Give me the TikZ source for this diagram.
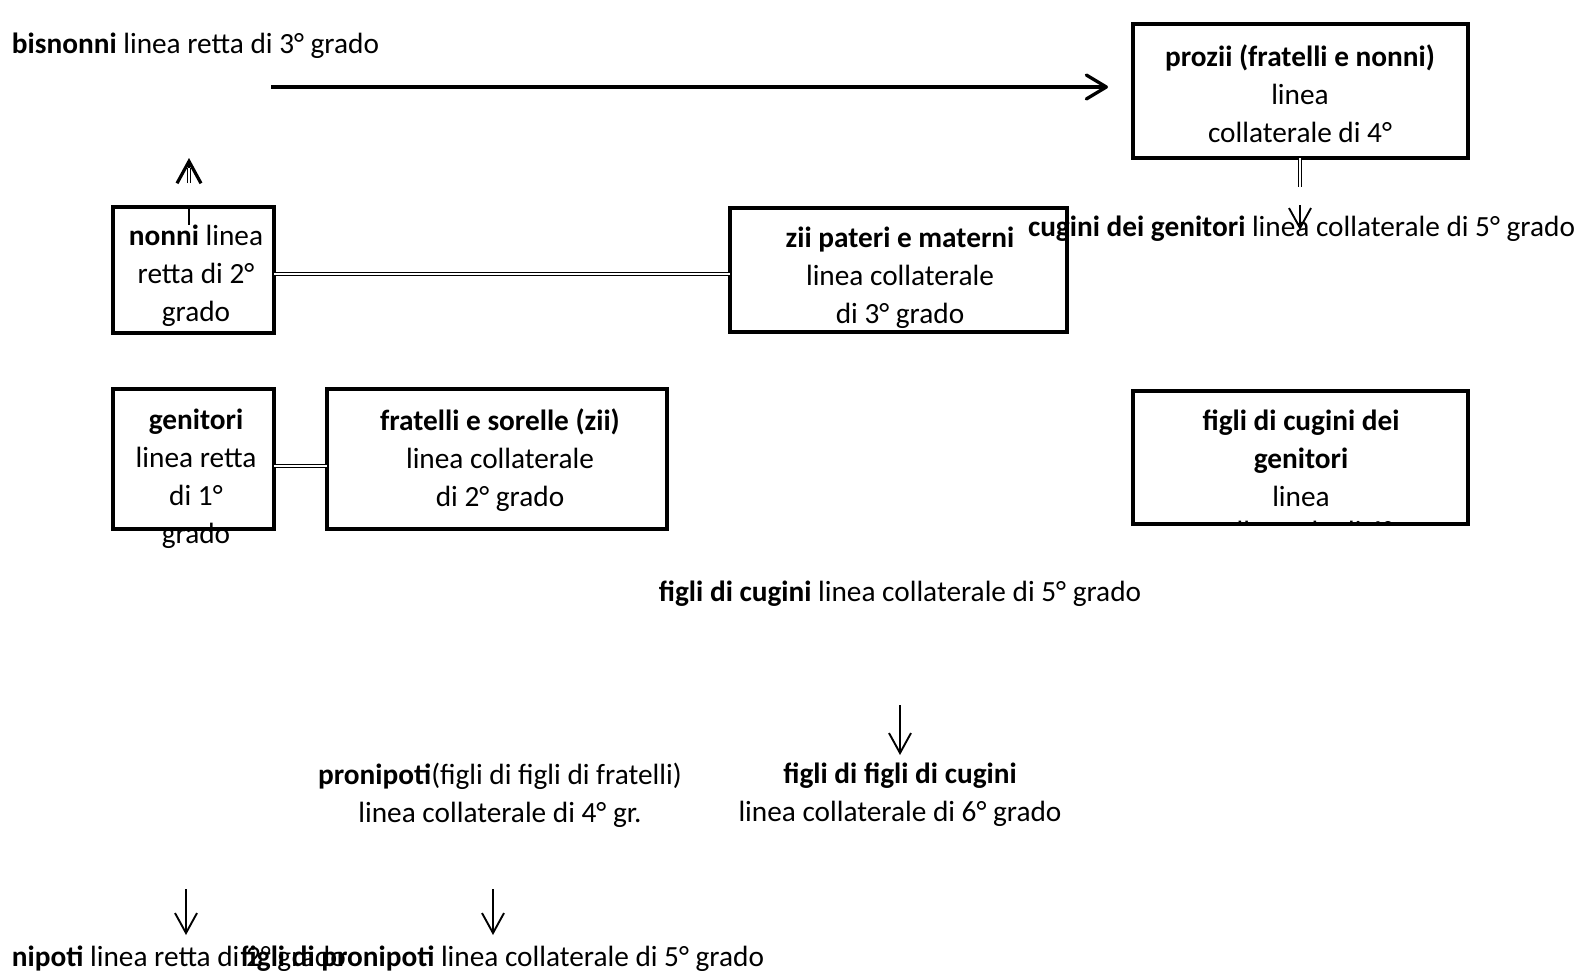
\documentclass[tikz,border=0pt]{standalone}
\usepackage{fontspec}
\setmainfont{Carlito}
\usetikzlibrary{arrows.meta}
\tikzset{
  box/.style={draw, line width=3.2pt, rectangle, inner sep=0pt, outer sep=0pt},
  txt/.style={inner sep=0pt, outer sep=0pt, align=center, font=\fontsize{29.3}{38}\selectfont},
  dbl/.style={double=white, double distance=1.8pt, line width=1pt},
  bigarrow/.style={line width=3.3pt, -{Straight Barb[length=20pt,width=24pt,line width=3.3pt,round]}},
  thinarrow/.style={line width=1.3pt, -{Straight Barb[length=20pt,width=22pt,line width=1.9pt]}},
  headonly/.style={line width=1.3pt, -{Straight Barb[length=22pt,width=24pt,line width=3.2pt]}}
}
\begin{document}
\begin{tikzpicture}[x=1pt,y=-1pt]
\useasboundingbox[fill=white] (0,0) rectangle (1584,971);

% boxes
\node[box, minimum width=335pt, minimum height=134pt] (prozii) at (1300.5,91) {};
\node[box, minimum width=161pt, minimum height=126pt] (nonni) at (193.5,270) {};
\node[box, minimum width=337pt, minimum height=124pt] (zii) at (898.5,270) {};
\node[box, minimum width=161pt, minimum height=140pt] (genitori) at (193.5,459) {};
\node[box, minimum width=340pt, minimum height=140pt] (fratelli) at (497,459) {};
\node[box, minimum width=335pt, minimum height=133pt] (figlicg) at (1300.5,457.5) {};

% texts
\node[txt, anchor=west] (bisnonniT) at (12,46) {\textbf{bisnonni} linea retta di 3° grado};
\node[txt] (proziiT) at (1300,94) {\textbf{prozii (fratelli e nonni)}\\linea\\collaterale di 4°};
\node[txt] (nonniT) at (196,276) {\textbf{nonni} linea\\retta di 2°\\grado};
\node[txt] (ziiT) at (900,278) {\textbf{zii pateri e materni}\\linea collaterale\\di 3° grado};
\node[txt] (genitoriT) at (196,479) {\textbf{genitori}\\linea retta\\di 1°\\grado};
\node[txt] (fratelliT) at (500,460) {\textbf{fratelli e sorelle (zii)}\\linea collaterale\\di 2° grado};
\begin{scope}
\clip (figlicg.north west) rectangle (figlicg.south east);
\node[txt, anchor=north] (figlicgT) at (1301,409.5) {\textbf{figli di cugini dei}\\\textbf{genitori}\\linea\\[-3pt]collaterale di 6°};
\end{scope}
\node[txt, anchor=west] (cuginiT) at (1028,229) {\textbf{cugini dei genitori} linea collaterale di 5° grado};
\node[txt] (figlicT) at (900,594) {\textbf{figli di cugini} linea collaterale di 5° grado};
\node[txt] (ffcT) at (900,795) {\textbf{figli di figli di cugini}\\linea collaterale di 6° grado};
\node[txt] (pronT) at (500,795) {\textbf{pronipoti}(figli di figli di fratelli)\\linea collaterale di 4° gr.};
\node[txt, anchor=west] (nipotiT) at (12,959) {\textbf{nipoti} linea retta di 2° grado};
\node[txt, anchor=east] (fpronT) at (764,959) {\textbf{figli di pronipoti} linea collaterale di 5° grado};

% connectors
\coordinate (a1) at (271,87);
\coordinate (a2) at (1108,87);
\draw[bigarrow] (a1) -- (a2);

\draw[dbl] ([yshift=-4pt]nonni.east) -- ([yshift=-4pt]zii.west);
\draw[dbl] ([yshift=-7pt]genitori.east) -- ([yshift=-7pt]fratelli.west);

% nonni up arrow
\coordinate (nu0) at (189,225);
\coordinate (nu1) at (189,183);
\coordinate (nu2) at (189,158);
\coordinate (nu3) at (189,168);
\draw[line width=1.2pt] (nonni.north -| nu0) -- (nu0);
\draw[headonly] (nu1) -- (nu2);
\draw[dbl] (nu1) -- (nu3);

% prozii down
\coordinate (pd1) at (1300,187);
\coordinate (pd2) at (1300,205);
\coordinate (pd3) at (1300,230);
\draw[dbl] (prozii.south -| pd1) -- (pd1);
\draw[thinarrow] (pd2) -- (pd3);

% other down arrows
\coordinate (d1a) at (900,705);
\coordinate (d1b) at (900,755);
\draw[thinarrow] (d1a) -- (d1b);
\coordinate (d2a) at (186,889);
\coordinate (d2b) at (186,935);
\draw[thinarrow] (d2a) -- (d2b);
\coordinate (d3a) at (493,889);
\coordinate (d3b) at (493,935);
\draw[thinarrow] (d3a) -- (d3b);
\end{tikzpicture}
\end{document}
